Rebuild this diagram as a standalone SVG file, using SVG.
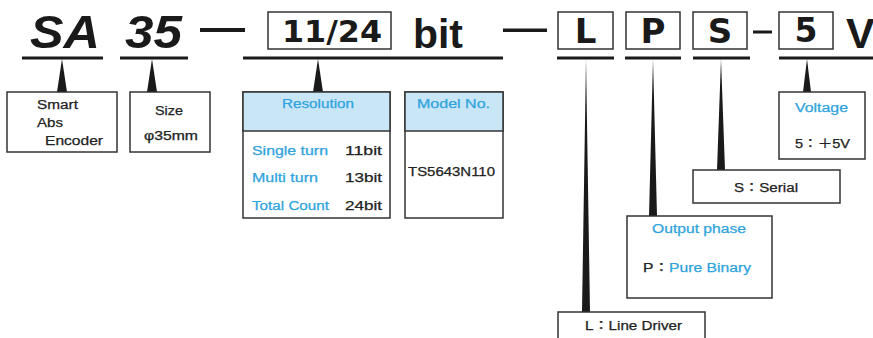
<svg xmlns="http://www.w3.org/2000/svg" width="873" height="338" viewBox="0 0 873 338">
<defs>
<style>
.bx{fill:#fff;stroke:#333;stroke-width:1.5}
.hd{fill:#c9e6f7;stroke:#333;stroke-width:1.5}
.t{font-family:"Liberation Sans","Noto Sans CJK JP",Arial,sans-serif;font-size:12.5px;fill:#222;stroke:#222;stroke-width:0.25}
.b{fill:#2ea3dc;stroke:#2ea3dc}
.big{font-family:"Liberation Sans",Arial,sans-serif;font-weight:bold;fill:#1a1a1a}
.dj{font-family:"DejaVu Sans",Verdana,sans-serif;font-weight:bold;fill:#1a1a1a}
.ul{stroke:#1a1a1a;stroke-width:3}
.wd{fill:#1a1a1a}
</style>
</defs>
<rect width="873" height="338" fill="#fff"/>
<g id="code">
<text class="big" x="30" y="48" font-size="46" font-style="italic" textLength="70" lengthAdjust="spacingAndGlyphs">SA</text>
<text class="big" x="125" y="48" font-size="46" font-style="italic" textLength="57" lengthAdjust="spacingAndGlyphs">35</text>
<rect x="200" y="28" width="45" height="4" fill="#1a1a1a"/>
<rect class="bx" x="268" y="12" width="123" height="37"/>
<text class="dj" x="282" y="42" font-size="30" textLength="100" lengthAdjust="spacingAndGlyphs">11/24</text>
<text class="big" x="413" y="48" font-size="40" textLength="50" lengthAdjust="spacingAndGlyphs">bit</text>
<rect x="503" y="28.5" width="44" height="3.5" fill="#1a1a1a"/>
<rect class="bx" x="558" y="12" width="55" height="37"/>
<text class="dj" x="585.5" y="43" font-size="34" text-anchor="middle">L</text>
<rect class="bx" x="626" y="12" width="54" height="37"/>
<text class="dj" x="653" y="43" font-size="34" text-anchor="middle">P</text>
<rect class="bx" x="693" y="12" width="54" height="37"/>
<text class="dj" x="720" y="43" font-size="34" text-anchor="middle">S</text>
<rect x="753" y="30.5" width="19" height="3" fill="#1a1a1a"/>
<rect class="bx" x="779" y="12" width="54" height="37"/>
<text class="dj" x="806" y="42" font-size="33" text-anchor="middle">5</text>
<text class="big" x="846" y="48" font-size="43">V</text>
</g>
<g id="connectors">
<line class="ul" x1="22" y1="58" x2="103" y2="58"/>
<line class="ul" x1="120" y1="58" x2="188" y2="58"/>
<line class="ul" x1="243" y1="58" x2="503" y2="58"/>
<line class="ul" x1="557" y1="58" x2="614" y2="58"/>
<line class="ul" x1="625" y1="58" x2="681" y2="58"/>
<line class="ul" x1="693" y1="58" x2="750" y2="58"/>
<line class="ul" x1="779" y1="58" x2="873" y2="58"/>
<polygon class="wd" points="62,59 57,92 67,92"/>
<polygon class="wd" points="152,59 147,92 157,92"/>
<polygon class="wd" points="318,59 313,92 323,92"/>
<polygon class="wd" points="586,59 582,312 590,312"/>
<polygon class="wd" points="653,59 649,216 657,216"/>
<polygon class="wd" points="721,59 717,170 725,170"/>
<polygon class="wd" points="807,59 803,92 811,92"/>
</g>
<g id="node-smart">
<rect class="bx" x="7" y="92" width="110" height="60"/>
<text class="t" x="37" y="109" textLength="41" lengthAdjust="spacingAndGlyphs">Smart</text>
<text class="t" x="37" y="127" textLength="26" lengthAdjust="spacingAndGlyphs">Abs</text>
<text class="t" x="45" y="145" textLength="58" lengthAdjust="spacingAndGlyphs">Encoder</text>
</g>
<g id="node-size">
<rect class="bx" x="130" y="92" width="80" height="60"/>
<text class="t" x="155" y="115" textLength="28" lengthAdjust="spacingAndGlyphs">Size</text>
<text class="t" x="144" y="140" textLength="54" lengthAdjust="spacingAndGlyphs">φ35mm</text>
</g>
<g id="node-resolution">
<rect class="bx" x="243" y="92" width="147" height="126"/>
<rect class="hd" x="243" y="92" width="147" height="39"/>
<text class="t b" x="282" y="108" textLength="72" lengthAdjust="spacingAndGlyphs">Resolution</text>
<text class="t b" x="252" y="155" textLength="76" lengthAdjust="spacingAndGlyphs">Single turn</text>
<text class="t" x="345" y="155" textLength="37" lengthAdjust="spacingAndGlyphs">11bit</text>
<text class="t b" x="252" y="182" textLength="66" lengthAdjust="spacingAndGlyphs">Multi turn</text>
<text class="t" x="345" y="182" textLength="37" lengthAdjust="spacingAndGlyphs">13bit</text>
<text class="t b" x="252" y="210" textLength="77" lengthAdjust="spacingAndGlyphs">Total Count</text>
<text class="t" x="345" y="210" textLength="37" lengthAdjust="spacingAndGlyphs">24bit</text>
</g>
<g id="node-model">
<rect class="bx" x="405" y="92" width="98" height="126"/>
<rect class="hd" x="405" y="92" width="98" height="39"/>
<text class="t b" x="417" y="108" textLength="73" lengthAdjust="spacingAndGlyphs">Model No.</text>
<text class="t" x="408" y="176" textLength="87" lengthAdjust="spacingAndGlyphs">TS5643N110</text>
</g>
<g id="node-voltage">
<rect class="bx" x="779" y="92" width="86" height="67"/>
<text class="t b" x="795" y="112" textLength="53" lengthAdjust="spacingAndGlyphs">Voltage</text>
<text class="t" x="795" y="148" textLength="55" lengthAdjust="spacingAndGlyphs">5：＋5V</text>
</g>
<g id="node-serial">
<rect class="bx" x="693" y="170" width="147" height="33"/>
<text class="t" x="734" y="192" textLength="64" lengthAdjust="spacingAndGlyphs">S：Serial</text>
</g>
<g id="node-output">
<rect class="bx" x="627" y="216" width="145" height="82"/>
<text class="t b" x="652" y="233" textLength="94" lengthAdjust="spacingAndGlyphs">Output phase</text>
<text class="t" x="643" y="272" textLength="108" lengthAdjust="spacingAndGlyphs">P：<tspan class="b">Pure Binary</tspan></text>
</g>
<g id="node-line">
<rect class="bx" x="558" y="312" width="147" height="32"/>
<text class="t" x="585" y="330" textLength="97" lengthAdjust="spacingAndGlyphs">L：Line Driver</text>
</g>
</svg>
